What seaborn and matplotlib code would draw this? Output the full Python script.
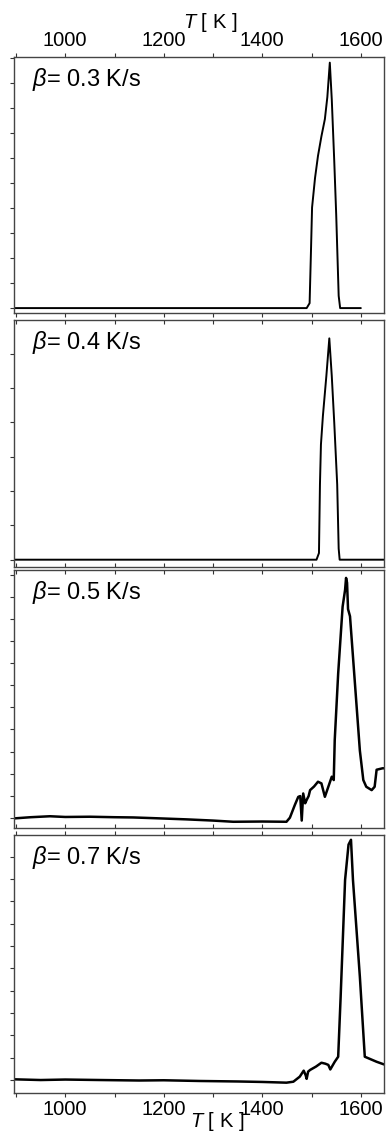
import numpy as np
import pandas as pd
import matplotlib.pyplot as plt
import seaborn as sns
from matplotlib.ticker import MultipleLocator

# heating rates
rates = ['0.3', '0.4', '0.5', '0.7']

# desorption traces (normalised)
t1 = [896, 1000, 1200, 1400, 1490, 1496, 1499, 1501, 1507, 1513, 1520, 1527, 1532, 1537, 1541, 1546, 1550, 1555, 1558, 1562, 1600]
s1 = [0, 0, 0, 0, 0, 0.02, 0.25, 0.41, 0.53, 0.62, 0.70, 0.77, 0.86, 1.0, 0.85, 0.60, 0.38, 0.05, 0, 0, 0]

t2 = [896, 1000, 1200, 1400, 1510, 1515, 1517, 1519, 1523, 1530, 1536, 1541, 1546, 1552, 1555, 1557, 1647]
s2 = [0, 0, 0, 0, 0, 0.03, 0.34, 0.52, 0.65, 0.83, 1.0, 0.83, 0.62, 0.34, 0.05, 0, 0]

t3 = [896, 930, 969, 1000, 1050, 1100, 1138, 1180, 1246, 1300, 1341, 1400, 1449, 1456, 1466, 1473,
      1477, 1480, 1483, 1487, 1490, 1494, 1497, 1505, 1513, 1520, 1527, 1534, 1541, 1545, 1547,
      1554, 1563, 1568, 1570, 1572, 1574, 1578, 1588, 1598, 1605, 1611, 1622, 1628, 1632, 1644, 1647]
s3 = [-0.003, 0.002, 0.006, 0.003, 0.004, 0.002, 0.001, -0.002, -0.007, -0.012, -0.017, -0.016, -0.017, 0.0, 0.053, 0.087,
      0.09, -0.012, 0.101, 0.06, 0.074, 0.09, 0.115, 0.13, 0.150, 0.143, 0.087, 0.129, 0.171, 0.157,
      0.324, 0.602, 0.88, 0.95, 1.0, 0.98, 0.87, 0.84, 0.56, 0.28, 0.157, 0.129, 0.115, 0.129, 0.20, 0.206, 0.206]

t4 = [896, 950, 1000, 1071, 1150, 1200, 1273, 1350, 1400, 1449, 1463, 1476, 1484, 1488, 1490, 1493,
      1497, 1509, 1520, 1528, 1534, 1538, 1547, 1554, 1559, 1568, 1575, 1580, 1584, 1598, 1608, 1632, 1647]
s4 = [0.003, 0.0, 0.002, 0.0, -0.002, -0.001, -0.004, -0.006, -0.008, -0.011, -0.007, 0.014, 0.039, 0.02, 0.005, 0.035,
      0.042, 0.056, 0.072, 0.068, 0.063, 0.044, 0.076, 0.097, 0.347, 0.833, 0.98, 1.0, 0.833, 0.43, 0.097, 0.076, 0.065]

traces = [(t1, s1), (t2, s2), (t3, s3), (t4, s4)]

sns.set_style('ticks')
plt.rcParams['font.family'] = ['Liberation Sans', 'DejaVu Sans']
plt.rcParams['mathtext.fontset'] = 'custom'
plt.rcParams['mathtext.it'] = 'Liberation Sans:italic'
plt.rcParams['mathtext.rm'] = 'Liberation Sans'
plt.rcParams['text.color'] = 'black'
plt.rcParams['xtick.labelcolor'] = 'black'

W, H = 387, 1133
fig = plt.figure(figsize=(W / 100, H / 100), dpi=100)

# panel boxes in pixels (top, bottom)
boxes = [(57, 313), (320, 567), (570, 828), (835, 1093)]
left, right = 14, 384
ylims = [(-0.02, 1.023), (-0.033, 1.083), (-0.043, 1.033), (-0.054, 1.02)]
ysteps = [0.102, 0.155, 0.092, 0.093]
lws = [1.4, 1.4, 1.8, 1.8]

for i, ((t, s), (top, bot)) in enumerate(zip(traces, boxes)):
    ax = fig.add_axes([left / W, 1 - bot / H, (right - left) / W, (bot - top) / H])
    df = pd.DataFrame({'T': t, 'signal': s})
    sns.lineplot(data=df, x='T', y='signal', ax=ax, color='black', lw=lws[i], estimator=None, sort=False)
    ax.set_xlim(896, 1647)
    ax.set_ylim(*ylims[i])
    ax.set_ylabel('')
    ax.set_xlabel('')
    ax.set_yticks(np.arange(0, ylims[i][1], ysteps[i]))
    ax.set_yticklabels([])
    ax.tick_params(axis='y', direction='out', length=3, width=0.8, color='#333333')
    ax.xaxis.set_major_locator(MultipleLocator(200))
    ax.xaxis.set_minor_locator(MultipleLocator(100))
    ax.tick_params(axis='x', which='both', direction='in', length=3, width=0.8, top=True, bottom=True,
                   labelbottom=False, labeltop=False, labelsize=14.5, pad=2, color='#333333')
    for sp in ax.spines.values():
        sp.set_linewidth(1.0)
        sp.set_color('#444444')
    ax.text(0.05, 0.965, r'$\beta$= ' + rates[i] + ' K/s', transform=ax.transAxes,
            fontsize=17, va='top', ha='left')
    if i == 0:
        ax.tick_params(axis='x', which='both', top=True, labeltop=True, direction='out')
        ax.text(0.53, 1.135, r'$T$ [ K ]', transform=ax.transAxes, fontsize=14.5,
                ha='center', va='center')
    if i == 3:
        ax.tick_params(axis='x', which='both', bottom=True, labelbottom=True, direction='out')
        ax.text(0.55, -0.112, r'$T$ [ K ]', transform=ax.transAxes, fontsize=14.5,
                ha='center', va='center')

fig.savefig('out.png', dpi=100, facecolor='white')
